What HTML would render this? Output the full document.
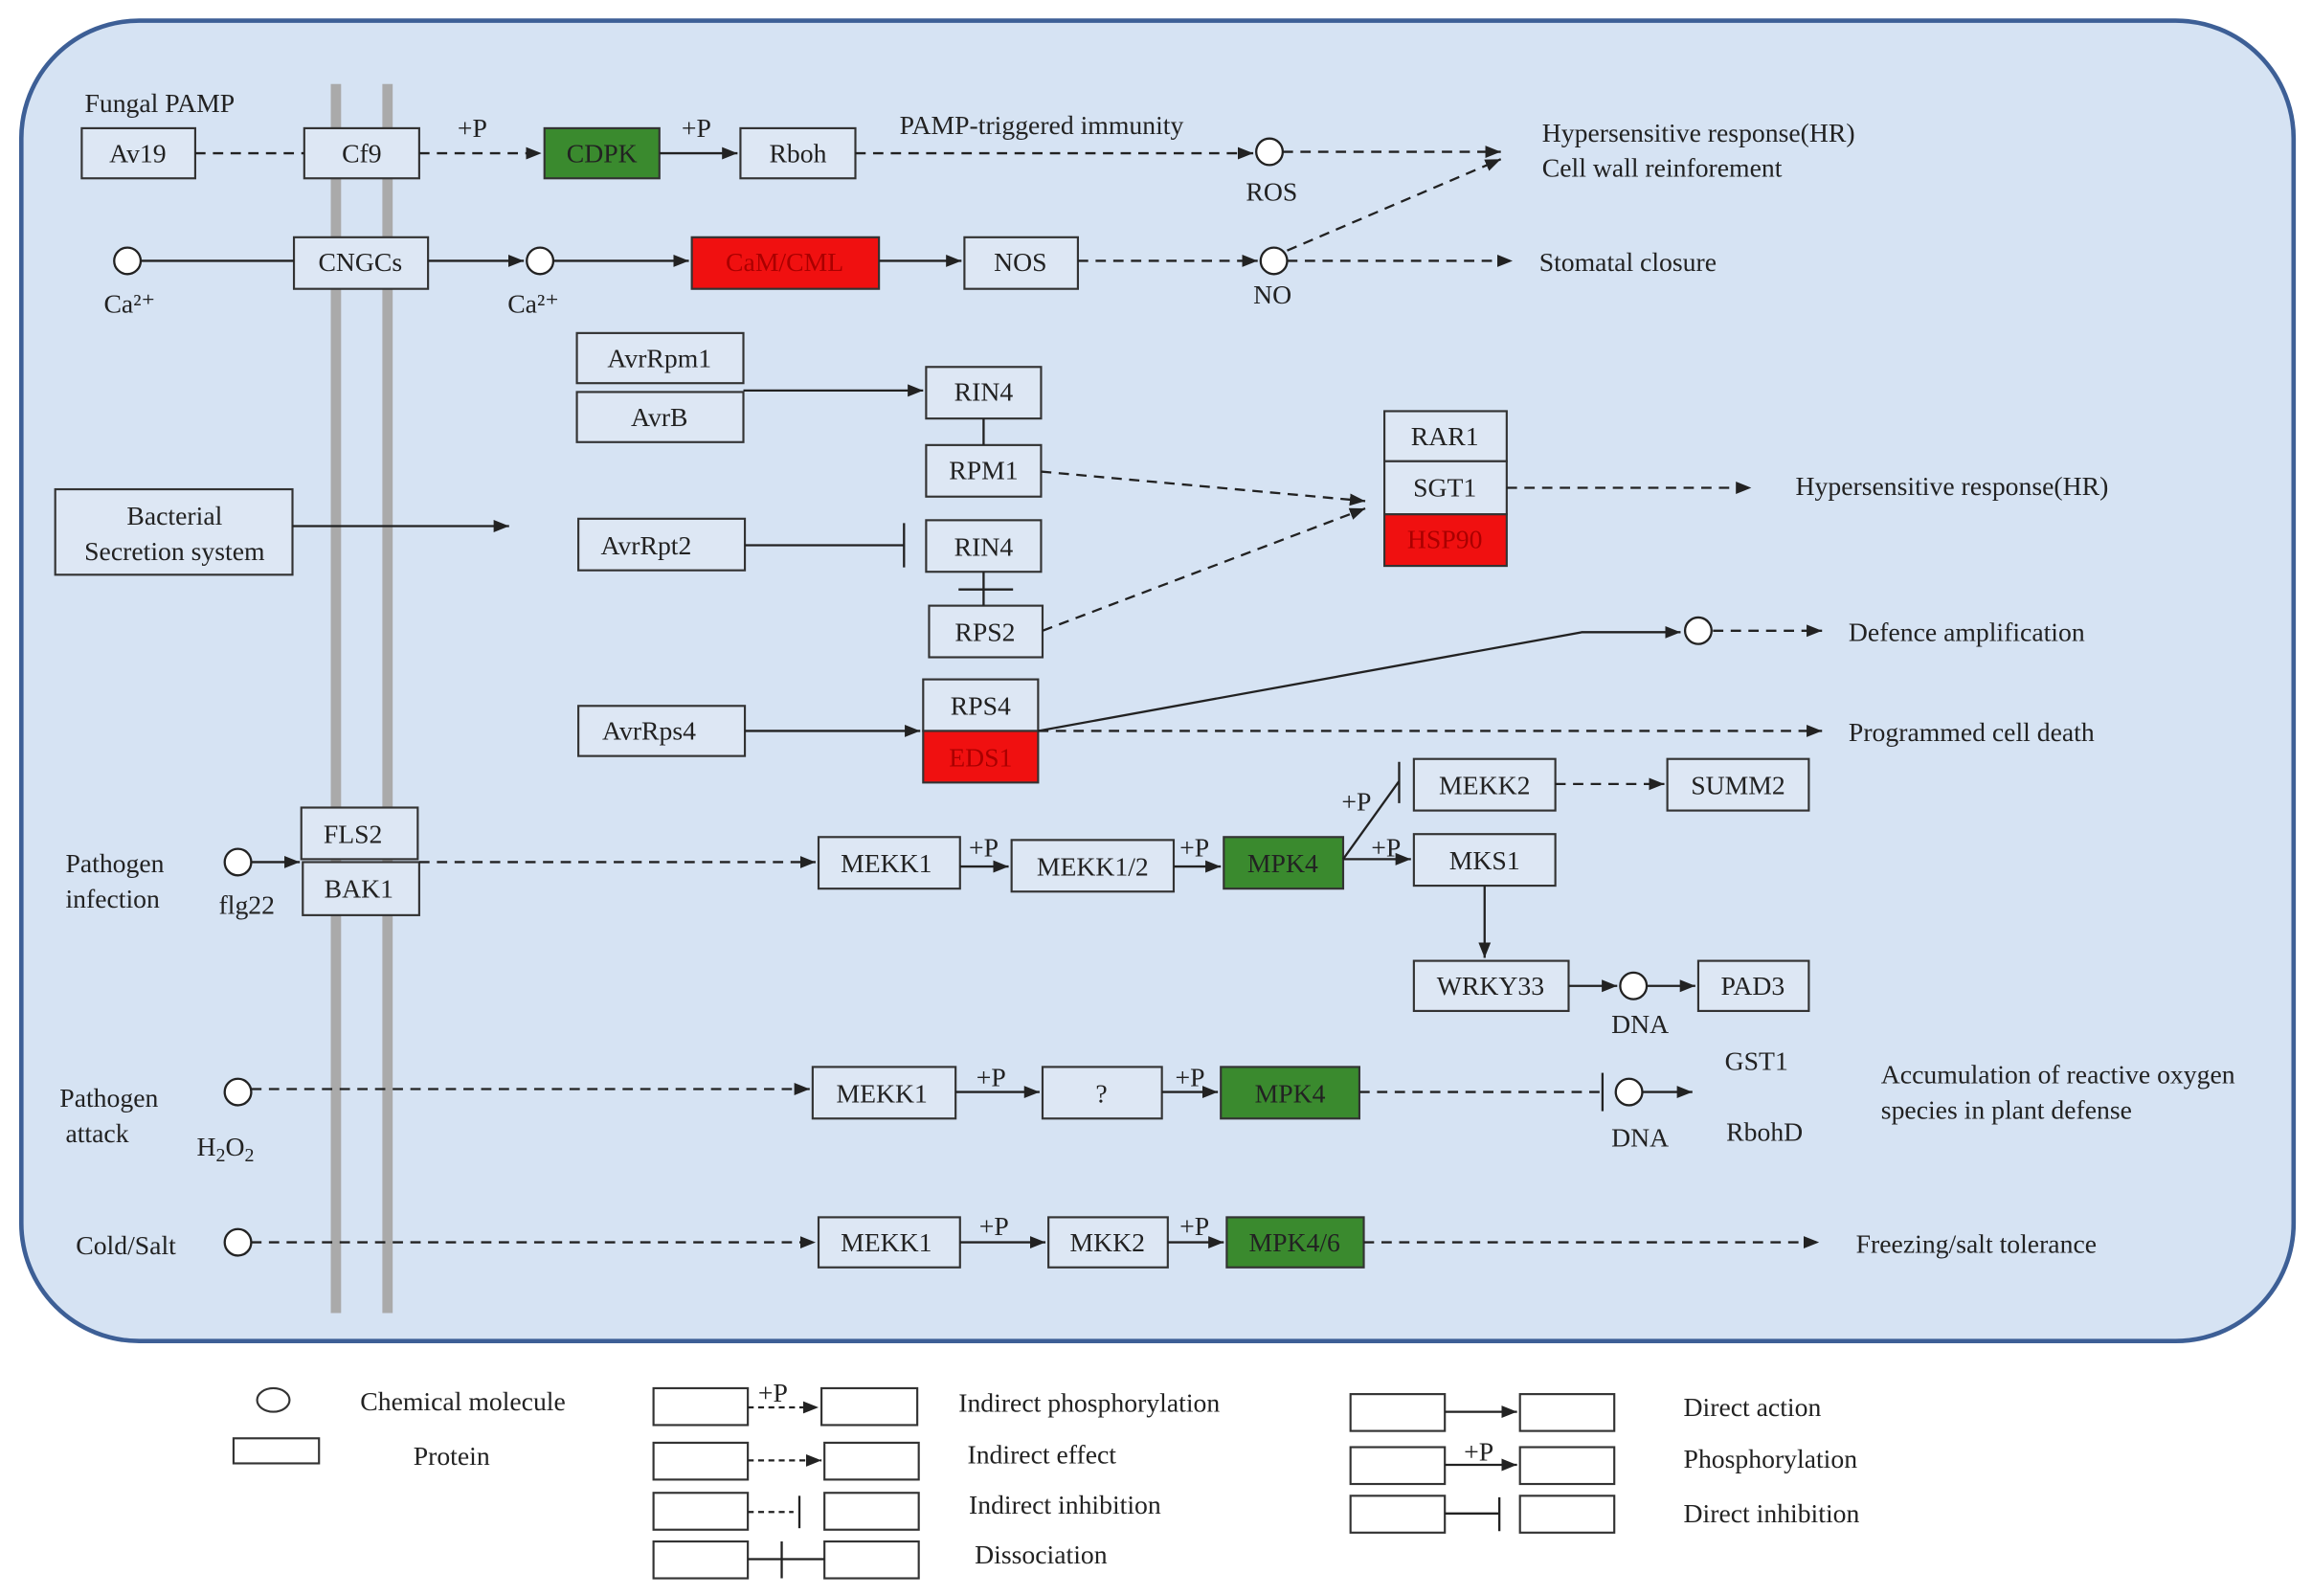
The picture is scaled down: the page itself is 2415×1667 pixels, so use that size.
<!DOCTYPE html>
<html><head><meta charset="utf-8"><style>
html,body{margin:0;padding:0;background:#fff;}
svg{display:block;font-family:"Liberation Serif","DejaVu Serif",serif;}
text{font-family:"Liberation Serif","DejaVu Serif",serif;font-size:18px;fill:#222;}
.b{fill:#dde7f4;stroke:#333;stroke-width:1.4;}
.g{fill:#3a8a2e;stroke:#333;stroke-width:1.4;}
.r{fill:#f01010;stroke:#333;stroke-width:1.4;}
.wb{fill:#fff;stroke:#333;stroke-width:1.4;}
.l{stroke:#222;stroke-width:1.5;fill:none;}
.d{stroke:#222;stroke-width:1.5;fill:none;stroke-dasharray:7,5;}
.c{fill:#fff;stroke:#222;stroke-width:1.5;}
</style></head><body>
<svg width="2415" height="1667" viewBox="0 0 1568 1083" xmlns="http://www.w3.org/2000/svg" font-family="'Liberation Serif','DejaVu Serif',serif">
<defs><marker id="a" viewBox="0 0 10 10" refX="10" refY="5" markerWidth="7" markerHeight="7" orient="auto"><path d="M0,1L10,5L0,9z" fill="#222"/></marker></defs>
<rect x="14" y="14" width="1542" height="896" rx="80" fill="#d6e3f3" stroke="#3d5f96" stroke-width="3"/>
<rect x="224" y="57" width="7" height="834" fill="#aaa"/>
<rect x="259" y="57" width="7" height="834" fill="#aaa"/>
<g text-anchor="middle">
<rect class="b" x="55" y="87" width="77" height="34"/><text x="93" y="110">Av19</text>
<rect class="b" x="206" y="87" width="78" height="34"/><text x="245" y="110">Cf9</text>
<rect class="g" x="369" y="87" width="78" height="34"/><text x="408" y="110">CDPK</text>
<rect class="b" x="502" y="87" width="78" height="34"/><text x="541" y="110">Rboh</text>
<rect class="b" x="199" y="161" width="91" height="35"/><text x="244" y="184">CNGCs</text>
<rect class="r" x="469" y="161" width="127" height="35"/><text x="532" y="184" style="fill:#a00">CaM/CML</text>
<rect class="b" x="654" y="161" width="77" height="35"/><text x="692" y="184">NOS</text>
<rect class="b" x="391" y="226" width="113" height="34"/><text x="447" y="249">AvrRpm1</text>
<rect class="b" x="391" y="266" width="113" height="34"/><text x="447" y="289">AvrB</text>
<rect class="b" x="628" y="249" width="78" height="35"/><text x="667" y="272">RIN4</text>
<rect class="b" x="628" y="302" width="78" height="35"/><text x="667" y="325">RPM1</text>
<rect class="b" x="939" y="279" width="83" height="34"/><text x="980" y="302">RAR1</text>
<rect class="b" x="939" y="313" width="83" height="36"/><text x="980" y="337">SGT1</text>
<rect class="r" x="939" y="349" width="83" height="35"/><text x="980" y="372" style="fill:#a00">HSP90</text>
<rect class="b" x="37" y="332" width="161" height="58"/><text x="118" y="356">Bacterial</text><text x="118" y="380">Secretion system</text>
<rect class="b" x="392" y="352" width="113" height="35"/><text x="438" y="376">AvrRpt2</text>
<rect class="b" x="628" y="353" width="78" height="35"/><text x="667" y="377">RIN4</text>
<rect class="b" x="630" y="411" width="77" height="35"/><text x="668" y="435">RPS2</text>
<rect class="b" x="626" y="461" width="78" height="35"/><text x="665" y="485">RPS4</text>
<rect class="r" x="626" y="496" width="78" height="35"/><text x="665" y="520" style="fill:#a00">EDS1</text>
<rect class="b" x="392" y="479" width="113" height="34"/><text x="440" y="502">AvrRps4</text>
<rect class="b" x="204" y="548" width="79" height="35"/><text x="239" y="572">FLS2</text>
<rect class="b" x="205" y="585" width="79" height="36"/><text x="243" y="609">BAK1</text>
<rect class="b" x="555" y="568" width="96" height="35"/><text x="601" y="592">MEKK1</text>
<rect class="b" x="686" y="570" width="110" height="35"/><text x="741" y="594">MEKK1/2</text>
<rect class="g" x="830" y="568" width="81" height="35"/><text x="870" y="592">MPK4</text>
<rect class="b" x="959" y="515" width="96" height="35"/><text x="1007" y="539">MEKK2</text>
<rect class="b" x="1131" y="515" width="96" height="35"/><text x="1179" y="539">SUMM2</text>
<rect class="b" x="959" y="566" width="96" height="35"/><text x="1007" y="590">MKS1</text>
<rect class="b" x="959" y="652" width="105" height="34"/><text x="1011" y="675">WRKY33</text>
<rect class="b" x="1152" y="652" width="75" height="34"/><text x="1189" y="675">PAD3</text>
<rect class="b" x="551" y="724" width="97" height="35"/><text x="598" y="748">MEKK1</text>
<rect class="b" x="707" y="724" width="81" height="35"/><text x="747" y="748">?</text>
<rect class="g" x="828" y="724" width="94" height="35"/><text x="875" y="748">MPK4</text>
<rect class="b" x="555" y="826" width="96" height="34"/><text x="601" y="849">MEKK1</text>
<rect class="b" x="711" y="826" width="81" height="34"/><text x="751" y="849">MKK2</text>
<rect class="g" x="832" y="826" width="93" height="34"/><text x="878" y="849">MPK4/6</text>
</g>
<g>
<circle class="c" cx="86" cy="177" r="9"/><circle class="c" cx="366" cy="177" r="9"/>
<circle class="c" cx="861" cy="103" r="9"/><circle class="c" cx="864" cy="177" r="9"/>
<circle class="c" cx="1152" cy="428" r="9"/><circle class="c" cx="161" cy="585" r="9"/>
<circle class="c" cx="1108" cy="669" r="9"/><circle class="c" cx="161" cy="741" r="9"/>
<circle class="c" cx="1105" cy="741" r="9"/><circle class="c" cx="161" cy="843" r="9"/>
</g>
<path class="d" d="M132,104H206"/>
<path class="d" d="M284,104H367" marker-end="url(#a)"/>
<path class="l" d="M447,104H500" marker-end="url(#a)"/>
<path class="d" d="M580,104H850" marker-end="url(#a)"/>
<path class="d" d="M870,103H1018" marker-end="url(#a)"/>
<path class="d" d="M873,170L1018,108" marker-end="url(#a)"/>
<path class="l" d="M95,177H199"/>
<path class="l" d="M290,177H355" marker-end="url(#a)"/>
<path class="l" d="M375,177H467" marker-end="url(#a)"/>
<path class="l" d="M596,177H652" marker-end="url(#a)"/>
<path class="d" d="M731,177H853" marker-end="url(#a)"/>
<path class="d" d="M873,177H1026" marker-end="url(#a)"/>
<path class="l" d="M504,265H626" marker-end="url(#a)"/>
<path class="l" d="M667,284V302"/>
<path class="d" d="M706,320L926,340" marker-end="url(#a)"/>
<path class="d" d="M707,428L926,345" marker-end="url(#a)"/>
<path class="d" d="M1022,331H1188" marker-end="url(#a)"/>
<path class="l" d="M198,357H345" marker-end="url(#a)"/>
<path class="l" d="M505,370H613M613,355V385"/>
<path class="l" d="M667,388V411M650,400H687"/>
<path class="l" d="M505,496H624" marker-end="url(#a)"/>
<path class="l" d="M704,496L1073,429H1140" marker-end="url(#a)"/>
<path class="d" d="M1162,428H1236" marker-end="url(#a)"/>
<path class="d" d="M704,496H1236" marker-end="url(#a)"/>
<path class="l" d="M170,585H203" marker-end="url(#a)"/>
<path class="d" d="M284,585H553" marker-end="url(#a)"/>
<path class="l" d="M651,588H684" marker-end="url(#a)"/>
<path class="l" d="M796,588H828" marker-end="url(#a)"/>
<path class="l" d="M911,583L949,530M949,517V545"/>
<path class="l" d="M911,583H957" marker-end="url(#a)"/>
<path class="d" d="M1055,532H1129" marker-end="url(#a)"/>
<path class="l" d="M1007,601V650" marker-end="url(#a)"/>
<path class="l" d="M1064,669H1097" marker-end="url(#a)"/>
<path class="l" d="M1117,669H1150" marker-end="url(#a)"/>
<path class="d" d="M170,739H549" marker-end="url(#a)"/>
<path class="l" d="M648,741H705" marker-end="url(#a)"/>
<path class="l" d="M788,741H826" marker-end="url(#a)"/>
<path class="d" d="M922,741H1086"/><path class="l" d="M1087,728V754"/>
<path class="l" d="M1114,741H1148" marker-end="url(#a)"/>
<path class="d" d="M170,843H553" marker-end="url(#a)"/>
<path class="l" d="M651,843H709" marker-end="url(#a)"/>
<path class="l" d="M792,843H830" marker-end="url(#a)"/>
<path class="d" d="M925,843H1234" marker-end="url(#a)"/>
<text x="57" y="76">Fungal PAMP</text>
<text x="310" y="93">+P</text><text x="462" y="93">+P</text>
<text x="610" y="91">PAMP-triggered immunity</text>
<text x="845" y="136">ROS</text>
<text x="1046" y="96">Hypersensitive response(HR)</text>
<text x="1046" y="120">Cell wall reinforement</text>
<text x="70" y="212">Ca²⁺</text><text x="344" y="212">Ca²⁺</text>
<text x="850" y="206">NO</text>
<text x="1044" y="184">Stomatal closure</text>
<text x="1218" y="336">Hypersensitive response(HR)</text>
<text x="1254" y="435">Defence amplification</text>
<text x="1254" y="503">Programmed  cell death</text>
<text x="44" y="592">Pathogen</text><text x="44" y="616">infection</text>
<text x="148" y="620">flg22</text>
<text x="657" y="581">+P</text><text x="800" y="581">+P</text>
<text x="910" y="550">+P</text><text x="930" y="581">+P</text>
<text x="1093" y="701">DNA</text>
<text x="1170" y="726">GST1</text>
<text x="1171" y="774">RbohD</text>
<text x="1276" y="735">Accumulation of reactive oxygen</text>
<text x="1276" y="759">species in plant defense</text>
<text x="40" y="751">Pathogen</text><text x="44" y="775">attack</text>
<text x="133" y="784">H<tspan font-size="13" dy="4">2</tspan><tspan dy="-4">O</tspan><tspan font-size="13" dy="4">2</tspan></text>
<text x="662" y="737">+P</text><text x="797" y="737">+P</text>
<text x="1093" y="778">DNA</text>
<text x="51" y="851">Cold/Salt</text>
<text x="664" y="838">+P</text><text x="800" y="838">+P</text>
<text x="1259" y="850">Freezing/salt tolerance</text>
<ellipse class="wb" cx="185" cy="950" rx="11" ry="8"/>
<text x="244" y="957">Chemical molecule</text>
<rect class="wb" x="158" y="976" width="58" height="17"/>
<text x="280" y="994">Protein</text>
<rect class="wb" x="443" y="942" width="64" height="25"/><rect class="wb" x="557" y="942" width="65" height="25"/>
<path class="d" d="M507,955H555" marker-end="url(#a)" style="stroke-dasharray:4,3"/><text x="514" y="951" font-size="15">+P</text>
<text x="650" y="958">Indirect phosphorylation</text>
<rect class="wb" x="443" y="979" width="64" height="25"/><rect class="wb" x="559" y="979" width="64" height="25"/>
<path class="d" d="M507,991H557" marker-end="url(#a)" style="stroke-dasharray:4,3"/>
<text x="656" y="993">Indirect effect</text>
<rect class="wb" x="443" y="1013" width="64" height="25"/><rect class="wb" x="559" y="1013" width="64" height="25"/>
<path class="d" d="M507,1026H538" style="stroke-dasharray:4,3"/><path class="l" d="M542,1015V1037"/>
<text x="657" y="1027">Indirect inhibition</text>
<rect class="wb" x="443" y="1046" width="64" height="25"/><rect class="wb" x="559" y="1046" width="64" height="25"/>
<path class="l" d="M507,1058H559M530,1046V1071"/>
<text x="661" y="1061">Dissociation</text>
<rect class="wb" x="916" y="946" width="64" height="25"/><rect class="wb" x="1031" y="946" width="64" height="25"/>
<path class="l" d="M980,958H1029" marker-end="url(#a)"/>
<text x="1142" y="961">Direct action</text>
<rect class="wb" x="916" y="982" width="64" height="25"/><rect class="wb" x="1031" y="982" width="64" height="25"/>
<path class="l" d="M980,994H1029" marker-end="url(#a)"/><text x="993" y="991" font-size="15">+P</text>
<text x="1142" y="996">Phosphorylation</text>
<rect class="wb" x="916" y="1015" width="64" height="25"/><rect class="wb" x="1031" y="1015" width="64" height="25"/>
<path class="l" d="M980,1027H1017M1017,1016V1039"/>
<text x="1142" y="1033">Direct inhibition</text>
</svg>
</body></html>
